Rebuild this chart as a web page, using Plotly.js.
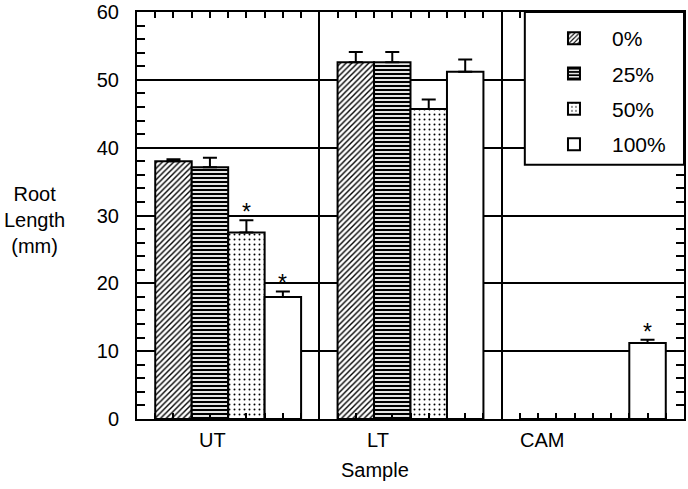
<!DOCTYPE html>
<html><head><meta charset="utf-8">
<script src="https://cdn.plot.ly/plotly-3.0.1.min.js"></script>
<style>body{margin:0;padding:0;background:#fff}</style>
</head><body>
<div id="chart" style="width:688px;height:489px"></div>
<script>
const categories = ['UT', 'LT', 'CAM'];
const seriesNames = ['0%', '25%', '50%', '100%'];
const values0 = [38.0, 52.6, 0];
const values25 = [37.1, 52.6, 0];
const values50 = [27.5, 45.7, 0];
const values100 = [18.0, 51.2, 11.2];
const err0 = [0.3, 1.5, 0];
const err25 = [1.4, 1.5, 0];
const err50 = [1.8, 1.4, 0];
const err100 = [0.8, 1.8, 0.5];
const sig0 = ['', '', ''];
const sig25 = ['', '', ''];
const sig50 = ['*', '', ''];
const sig100 = ['*', '', '*'];
const yTicks = [0, 10, 20, 30, 40, 50, 60];

const FONT = 'Liberation Sans, Arial, sans-serif';
const vals = [values0, values25, values50, values100];
const errs = [err0, err25, err50, err100];
const sigs = [sig0, sig25, sig50, sig100];
const patterns = [
  {shape: '/', size: 4, solidity: 0.35, fgcolor: '#000', bgcolor: '#fff'},
  {shape: '-', size: 4, solidity: 0.55, fgcolor: '#000', bgcolor: '#fff'},
  {shape: '.', size: 5, solidity: 0.12, fgcolor: '#000', bgcolor: '#fff'},
  {shape: '', fgcolor: '#000', bgcolor: '#fff'}
];

const traces = vals.map((v, i) => ({
  type: 'bar', name: seriesNames[i], x: categories, y: v,
  legendgroup: 'g' + i,
  marker: {color: '#fff', pattern: patterns[i], line: {color: '#000', width: 2}},
  error_y: {type: 'data', array: errs[i], arrayminus: v.map(() => 0), symmetric: false,
            color: '#000', thickness: 2, width: 7, visible: true},
  hoverinfo: 'skip'
}));
traces.push({type: 'scatter', mode: 'markers', x: [-0.5, 2.5], y: [null, null],
  xaxis: 'x2', yaxis: 'y', showlegend: false, hoverinfo: 'skip'});

const annotations = [];
const nS = vals.length, bw = 0.8 / nS;
sigs.forEach((s, i) => s.forEach((t, c) => {
  if (!t) return;
  annotations.push({xref: 'x2', yref: 'y', x: c + (i - (nS - 1) / 2) * bw, y: vals[i][c] + errs[i][c],
    text: t, showarrow: false, yanchor: 'bottom', yshift: -7, font: {family: FONT, size: 23, color: '#000'}});
}));
const labelPos = [-0.085, 0.82, 1.72];
categories.forEach((c, k) => annotations.push({xref: 'x2', yref: 'paper', x: labelPos[k], y: -0.052,
  yanchor: 'middle', text: c, showarrow: false, font: {family: FONT, size: 20, color: '#000'}}));
annotations.push({xref: 'paper', yref: 'paper', x: 0.435, y: -0.126, yanchor: 'middle', text: 'Sample',
  showarrow: false, font: {family: FONT, size: 20, color: '#000'}});
annotations.push({xref: 'paper', yref: 'paper', x: -0.188, y: 0.49, xanchor: 'center', yanchor: 'middle',
  text: 'Root<br>Length<br>(mm)', showarrow: false, font: {family: FONT, size: 20, color: '#000'}});

const layout = {
  width: 688, height: 489,
  margin: {l: 137, r: 4, t: 12, b: 70},
  paper_bgcolor: '#fff', plot_bgcolor: '#fff',
  font: {family: FONT, size: 20, color: '#000'},
  barmode: 'group', bargap: 0.2, bargroupgap: 0,
  showlegend: true,
  legend: {x: 0.7294, y: 0.985, xanchor: 'left', yanchor: 'top', bgcolor: 'rgba(0,0,0,0)', borderwidth: 0,
           font: {family: FONT, size: 21, color: '#000'}, tracegroupgap: 5, itemwidth: 66,
           traceorder: 'grouped'},
  shapes: [{type: 'rect', xref: 'paper', yref: 'paper', x0: 0.709, x1: 1, y0: 0.625, y1: 1,
            fillcolor: '#fff', line: {color: '#000', width: 2}, layer: 'above'}],
  xaxis: {type: 'category', showline: true, linecolor: '#000', linewidth: 2, mirror: true,
          showticklabels: false, ticks: '', showgrid: false, zeroline: false, fixedrange: true},
  xaxis2: {overlaying: 'x', side: 'bottom', range: [-0.5, 2.5], showline: true, linecolor: '#000', linewidth: 2,
           showticklabels: false,
           showgrid: true, gridcolor: '#000', gridwidth: 2, tick0: 0.5, dtick: 1,
           ticks: 'inside', ticklen: 6, tickcolor: '#000', tickwidth: 2, mirror: 'allticks',
           minor: {ticks: 'inside', dtick: 0.1, ticklen: 6, tickcolor: '#000', tickwidth: 2, showgrid: false},
           zeroline: false},
  yaxis: {range: [0, 60], tickvals: yTicks, showline: true, linecolor: '#000', linewidth: 2, mirror: 'allticks',
          showgrid: true, gridcolor: '#000', gridwidth: 2, zeroline: false, ticklabeloverflow: 'allow',
          ticks: 'inside', ticklen: 8, tickcolor: '#000', tickwidth: 2, ticklabelstandoff: 12,
          tickfont: {family: FONT, size: 20, color: '#000'},
          minor: {ticks: 'inside', dtick: 2, ticklen: 8, tickcolor: '#000', tickwidth: 2, showgrid: false}},
  annotations: annotations
};
Plotly.newPlot('chart', traces, layout, {staticPlot: true});
</script>
</body></html>
